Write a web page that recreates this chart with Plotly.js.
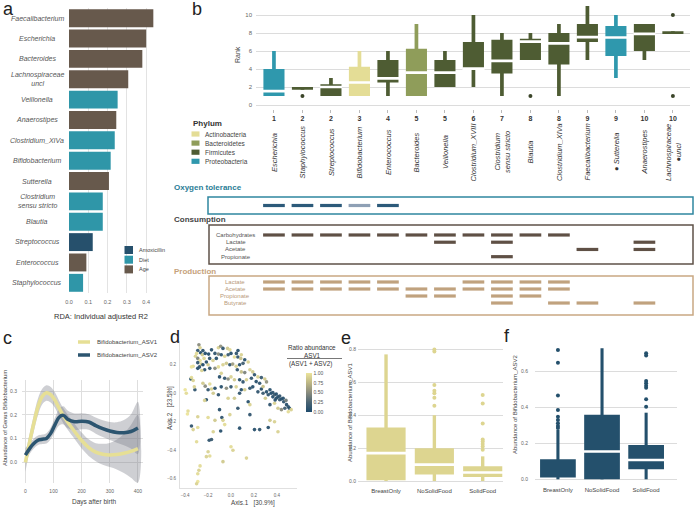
<!DOCTYPE html>
<html><head><meta charset="utf-8">
<script src="https://cdn.plot.ly/plotly-3.0.1.min.js"></script>
<style>html,body{margin:0;padding:0;background:#fff}#chart{width:696px;height:508px}</style>
</head><body><div id="chart"></div>
<script>
// ---------------- Panel a: RDA ----------------
const rdaGenera = ["Faecalibacterium","Escherichia","Bacteroides","Lachnospiraceae<br>uncl","Veillonella","Anaerostipes","Clostridium_XIVa","Bifidobacterium","Sutterella","Clostridium<br>sensu stricto","Blautia","Streptococcus","Enterococcus","Staphylococcus"];
const rdaR2 = [0.437,0.400,0.380,0.307,0.252,0.245,0.237,0.216,0.207,0.175,0.175,0.123,0.090,0.073];
const rdaFactor = ["Age","Age","Age","Age","Diet","Age","Diet","Diet","Age","Diet","Diet","Amoxicillin","Age","Diet"];
const factorNames = ["Amoxicillin","Diet","Age"];
const factorColors = ["#26506c","#2f96a8","#67594c"];

// ---------------- Panel b: rank boxes ----------------
const rankGenera = ["Escherichia","Staphylococcus","Streptococcus","Bifidobacterium","Enterococcus","Bacteroides","Veillonella","Clostridium_XVIII","Clostridium<br>sensu stricto","Blautia","Clostridium_XIVa","Faecalibacterium","● Sutterella","Anaerostipes","Lachnospiraceae<br>●uncl"];
const rankLabels = ["1","2","2","3","4","5","5","6","7","8","8","9","9","10","10"];
const rankPhylum = ["Proteobacteria","Firmicutes","Firmicutes","Actinobacteria","Firmicutes","Bacteroidetes","Firmicutes","Firmicutes","Firmicutes","Firmicutes","Firmicutes","Firmicutes","Proteobacteria","Firmicutes","Firmicutes"];
const rankLo  = [1, 1.7, 1, 1, 1, 1, 2, 2, 1, 5, 1, 5, 3, 5, 7.9];
const rankQ1  = [1, 1.7, 1, 1, 2.5, 1, 2, 3.95, 3.5, 5, 4.5, 7, 5.45, 6, 7.9];
const rankMed = [1.55, null, 2.0, 2.5, 2.95, 3.6, 3.6, 4.05, 4.9, 7.05, 6.85, 7.55, 7.5, 7.9, null];
const rankQ3  = [4, 2, 2.3, 4.25, 5, 6.25, 5, 7, 7.25, 7.35, 8, 9, 8.78, 9, 8.2];
const rankHi  = [6, 2, 3, 6, 6, 9, 6, 10, 8, 8, 9, 11, 10, 9, 8.2];
const rankOutX = [1, 9, 14, 14];
const rankOutY = [1, 1, 10, 1];
const phylumNames = ["Actinobacteria","Bacteroidetes","Firmicutes","Proteobacteria"];
const phylumColors = ["#e4dd96","#8f9d5a","#4e5c33","#2f98ad"];

// traits (2 = strong, 1 = weak, 0 = none)
const oxygenTolerance = [2,2,2,1,2,0,0,0,0,0,0,0,0,0,0];
const consumptionRows = ["Carbohydrates","Lactate","Acetate","Propionate"];
const consCarbohydrates = [1,1,1,1,1,1,1,1,1,1,1,0,0,0,0];
const consLactate       = [0,0,0,0,0,0,1,0,1,0,0,0,0,1,0];
const consAcetate       = [0,0,0,0,0,0,0,0,0,0,0,1,0,1,0];
const consPropionate    = [0,0,0,0,0,0,0,0,1,0,0,0,0,0,0];
const productionRows = ["Lactate","Acetate","Propionate","Butyrate"];
const prodLactate    = [1,1,1,1,1,0,0,1,1,1,1,0,0,0,0];
const prodAcetate    = [1,1,1,1,1,1,1,1,1,1,1,0,0,0,0];
const prodPropionate = [0,0,0,0,0,1,1,0,1,1,0,0,0,0,0];
const prodButyrate   = [0,0,0,0,0,0,0,0,1,0,1,1,0,1,0];

// ---------------- Panel c: smoothed abundance ----------------
const days    = [0,15,30,45,60,75,90,105,120,135,150,175,200,225,250,275,300,325,350,375,400];
const asv1    = [0.0,0.085,0.165,0.235,0.278,0.293,0.285,0.262,0.228,0.196,0.17,0.13,0.092,0.062,0.043,0.034,0.031,0.033,0.038,0.046,0.058];
const asv1Lo  = [-0.04,0.05,0.13,0.2,0.245,0.26,0.252,0.23,0.196,0.165,0.138,0.098,0.058,0.027,0.005,-0.01,-0.02,-0.03,-0.045,-0.065,-0.085];
const asv1Hi  = [0.035,0.12,0.2,0.27,0.31,0.325,0.318,0.295,0.26,0.228,0.202,0.162,0.126,0.097,0.081,0.078,0.082,0.096,0.121,0.157,0.2];
const asv2    = [0.03,0.058,0.079,0.093,0.097,0.101,0.122,0.158,0.19,0.198,0.182,0.171,0.173,0.17,0.155,0.142,0.132,0.126,0.125,0.13,0.145];
const asv2Lo  = [0.0,0.035,0.058,0.073,0.077,0.079,0.097,0.128,0.155,0.16,0.145,0.136,0.139,0.137,0.121,0.107,0.094,0.083,0.072,0.058,0.035];
const asv2Hi  = [0.06,0.08,0.1,0.113,0.117,0.123,0.147,0.188,0.225,0.236,0.219,0.206,0.207,0.203,0.189,0.177,0.17,0.169,0.178,0.202,0.255];
const asvNames = ["Bifidobacterium_ASV1","Bifidobacterium_ASV2"];
const asvColors = ["#e6df95","#2c5570"];

// ---------------- Panel d: PCoA ----------------
const pcoaX = [-0.28,-0.27,-0.29,-0.30,-0.265,-0.25,-0.31,-0.29,-0.245,-0.225,-0.235,-0.27,-0.29,-0.26,-0.11,-0.09,-0.07,-0.03,-0.01,-0.17,-0.14,-0.195,-0.11,-0.085,-0.055,-0.025,0.0,0.03,0.06,0.085,0.12,0.15,0.105,-0.33,-0.345,-0.29,-0.275,-0.245,-0.23,-0.255,-0.2,-0.185,-0.14,-0.11,-0.07,-0.04,-0.01,0.015,0.045,0.075,0.055,0.09,0.12,0.165,0.19,0.205,0.235,0.265,0.295,0.31,-0.085,-0.1,-0.055,-0.025,0.0,0.03,0.075,0.105,0.135,-0.35,-0.33,-0.345,-0.40,-0.39,-0.315,-0.32,-0.245,-0.225,-0.185,-0.17,-0.2,-0.14,-0.155,-0.085,-0.04,0.0,0.045,0.09,0.12,0.165,0.19,0.235,0.265,0.28,0.31,0.325,0.35,0.365,0.38,0.395,0.41,0.425,0.44,0.46,0.485,0.5,0.51,0.47,0.41,0.44,0.38,0.34,0.30,-0.215,-0.23,-0.11,-0.025,0.03,0.15,0.165,0.075,-0.375,-0.38,-0.29,-0.2,-0.345,-0.33,-0.29,-0.14,-0.1,-0.08,-0.07,-0.055,-0.09,-0.01,0.075,0.165,0.205,0.25,0.325,0.34,0.38,0.41,0.5,0.525,0.06,-0.155,-0.30,-0.19,-0.17,-0.2,-0.185,-0.215,-0.07,0.135,0.0,0.017,-0.27,-0.28,-0.29,-0.29,-0.30,0.34,0.365,0.395,0.425,0.455,0.48,0.385,0.25,0.28,0.22,0.178,0.061,0.047,0.09,-0.215,-0.186,-0.157,-0.128];
const pcoaY = [0.34,0.32,0.30,0.28,0.285,0.27,0.26,0.245,0.30,0.28,0.245,0.23,0.215,0.205,0.32,0.33,0.315,0.315,0.305,0.305,0.28,0.275,0.275,0.27,0.26,0.27,0.28,0.255,0.255,0.245,0.235,0.22,0.21,0.19,0.185,0.175,0.185,0.2,0.165,0.16,0.2,0.175,0.175,0.185,0.2,0.21,0.2,0.205,0.19,0.2,0.165,0.15,0.145,0.165,0.15,0.13,0.115,0.11,0.1,0.08,0.14,0.115,0.105,0.1,0.115,0.095,0.095,0.08,0.095,0.1,0.09,0.11,0.025,0.0,0.025,0.045,0.07,0.05,0.065,0.03,0.025,0.035,0.0,0.045,0.035,0.045,0.045,0.025,0.025,0.035,0.045,0.01,0.03,0.0,0.01,-0.01,0.0,-0.025,-0.01,-0.035,-0.025,-0.045,-0.04,-0.06,-0.08,-0.095,-0.105,-0.105,-0.105,-0.115,-0.07,-0.08,-0.035,-0.045,-0.05,-0.01,-0.035,-0.035,-0.06,-0.08,0.0,-0.125,-0.145,-0.165,-0.17,-0.23,-0.255,-0.24,-0.19,-0.115,-0.17,-0.19,-0.22,-0.265,-0.15,-0.245,-0.15,-0.255,-0.255,-0.24,-0.19,-0.2,-0.27,-0.13,-0.115,-0.105,-0.27,-0.34,-0.33,-0.325,-0.41,-0.44,-0.445,-0.48,-0.455,-0.375,-0.4,-0.51,-0.54,-0.565,-0.62,-0.635,0.025,0.005,-0.005,-0.02,-0.035,-0.05,-0.047,0.07,0.047,0.082,0.105,0.30,0.28,0.27,0.22,0.245,0.23,0.245];
const pcoaRatio = [0.5,0.9,0.1,0.95,0.05,0.85,0.9,0.45,0.08,0.03,0.92,0.97,0.12,0.88,0.9,0.55,0.1,0.85,0.93,0.05,0.1,0.02,0.5,0.07,0.9,0.15,0.05,0.95,0.1,0.8,0.05,0.9,0.2,0.95,1.0,0.05,0.1,0.0,0.08,0.9,0.85,0.1,0.5,0.95,0.9,0.85,0.1,0.6,0.9,0.05,0.1,0.8,0.45,0.9,0.85,0.1,0.9,0.15,0.85,0.55,0.9,0.05,0.1,0.5,0.9,0.85,0.05,0.1,0.9,0.05,0.9,0.95,1.0,0.95,0.1,0.9,0.85,0.5,0.95,0.9,0.1,0.05,0.85,0.05,0.5,0.1,0.9,0.05,0.85,0.1,0.05,0.1,0.05,0.15,0.05,0.1,0.0,0.05,0.2,0.1,0.05,0.15,0.05,0.1,0.05,0.1,0.05,0.2,0.85,0.5,0.9,0.1,0.85,0.05,0.9,0.1,0.9,0.85,0.05,0.9,0.1,0.95,1.0,0.9,0.95,0.1,0.9,0.95,0.85,0.05,0.1,0.9,0.95,0.05,0.9,0.05,0.1,0.05,0.1,0.05,0.85,0.9,0.9,0.95,0.9,0.1,0.9,0.95,0.1,0.15,0.9,0.95,0.9,0.85,0.9,0.95,0.9,0.95,0.9,0.95,1.0,0.9,0.05,0.1,0.05,0.1,0.05,0.4,0.05,0.1,0.8,0.05,0.1,0.05,0.1,0.9,0.05,0.1,0.9,0.05];

// ---------------- Panels e, f: diet boxes ----------------
const dietGroups = ["BreastOnly","NoSolidFood","SolidFood"];
const e_lo  = [0, 0, 0];
const e_q1  = [0.005, 0.04, 0.025];
const e_med = [0.17, 0.10, 0.052];
const e_q3  = [0.325, 0.20, 0.09];
const e_hi  = [0.77, 0.40, 0.15];
const e_outX = [1,1,1,1,1,1,1, 2,2,2,2,2,2,2,2];
const e_outY = [0.80,0.787,0.584,0.549,0.533,0.507,0.458, 0.523,0.472,0.35,0.252,0.24,0.225,0.21,0.19];
const f_lo  = [0, 0, 0];
const f_q1  = [0.01, 0.0, 0.056];
const f_med = [null, 0.155, 0.107];
const f_q3  = [0.112, 0.358, 0.19];
const f_hi  = [0.275, 0.728, 0.37];
const f_outX = [0,0,0,0,0,0,0,0,0, 2,2,2,2,2,2,2,2];
const f_outY = [0.718,0.648,0.465,0.385,0.348,0.33,0.311,0.296,0.285, 0.70,0.687,0.546,0.533,0.52,0.509,0.444,0.403];

// ================= build =================
const W = 696, H = 508;
const FONT = 'Liberation Sans, Arial, sans-serif';
const px = v => v / W, py = v => 1 - v / H;
const domX = (a, b) => [px(a), px(b)];
const domY = (top, bottom) => [py(bottom), py(top)];
const traces = [], annotations = [], shapes = [];
const txt = (text, x, y, o = {}) => annotations.push(Object.assign({
  text, x: px(x), y: py(y), xref: 'paper', yref: 'paper', showarrow: false,
  xanchor: 'center', yanchor: 'middle', font: {family: FONT, size: 7, color: '#444'}
}, o));

// ---- a ----
factorNames.forEach((f, k) => {
  const xs = [], ys = [];
  rdaGenera.forEach((g, i) => { if (rdaFactor[i] === f) { xs.push(rdaR2[i]); ys.push(g); } });
  traces.push({type: 'bar', orientation: 'h', x: xs, y: ys, width: 0.88, marker: {color: factorColors[k]}, xaxis: 'x', yaxis: 'y', hoverinfo: 'skip'});
});
rdaGenera.forEach(g => annotations.push({text: g, x: px(37), xref: 'paper', y: g, yref: 'y', showarrow: false,
  xanchor: 'center', yanchor: 'middle', align: 'center', font: {family: FONT, size: 7, color: '#555', style: 'italic'}}));
factorNames.forEach((f, k) => {
  const yc = 250 + 9.7 * k;
  shapes.push({type: 'rect', xref: 'paper', yref: 'paper', x0: px(124.5), x1: px(133), y0: py(yc + 4), y1: py(yc - 4), fillcolor: factorColors[k], line: {width: 0}});
  txt(f, 136.5, yc, {xanchor: 'left', font: {family: FONT, size: 5.5, color: '#444'}});
});
txt('RDA: Individual adjusted R2', 101, 316, {font: {family: FONT, size: 7.5, color: '#333'}});

// ---- b ----
const idx = rankGenera.map((_, i) => i);
const gColor = rankPhylum.map(p => phylumColors[phylumNames.indexOf(p)]);
traces.push({type: 'bar', x: idx, base: rankLo, y: idx.map(i => rankHi[i] - rankLo[i]), width: 0.13, marker: {color: gColor}, xaxis: 'x2', yaxis: 'y2', hoverinfo: 'skip'});
traces.push({type: 'bar', x: idx, base: rankQ1, y: idx.map(i => rankQ3[i] - rankQ1[i]), width: 0.74, marker: {color: gColor}, xaxis: 'x2', yaxis: 'y2', hoverinfo: 'skip'});
traces.push({type: 'bar', x: idx, base: rankMed.map(m => m === null ? 0 : m - 0.15), y: rankMed.map(m => m === null ? null : 0.3), width: 0.78, marker: {color: '#ffffff'}, xaxis: 'x2', yaxis: 'y2', hoverinfo: 'skip'});
traces.push({type: 'scatter', mode: 'markers', x: rankOutX, y: rankOutY, marker: {color: '#3b4529', size: 4}, xaxis: 'x2', yaxis: 'y2', hoverinfo: 'skip'});
rankGenera.forEach((g, i) => annotations.push({text: g, x: i, xref: 'x2', y: py(152), yref: 'paper', textangle: -90, showarrow: false,
  xanchor: 'center', yanchor: 'middle', align: 'center', font: {family: FONT, size: 7.5, color: '#333', style: 'italic'}}));
txt('Rank', 237, 55, {textangle: -90, font: {family: FONT, size: 7, color: '#444'}});
txt('<b>Phylum</b>', 191, 123, {xanchor: 'left', font: {family: FONT, size: 8, color: '#333'}});
phylumNames.forEach((p, k) => {
  const yc = 134 + 9.1 * k;
  shapes.push({type: 'rect', xref: 'paper', yref: 'paper', x0: px(191.5), x1: px(199.5), y0: py(yc + 2.6), y1: py(yc - 2.6), fillcolor: phylumColors[k], line: {width: 0}});
  txt(p, 203, yc, {xanchor: 'left', font: {family: FONT, size: 6.5, color: '#444'}});
});
// oxygen / consumption / production dashes (line-ew length = 1.4 * size)
const oxX = [], oxC = [];
oxygenTolerance.forEach((v, i) => { if (v > 0) { oxX.push(i); oxC.push(v === 2 ? '#2c5a7a' : '#8ea0b5'); } });
const dash = (x, y, color, ax) => ({type: 'scatter', mode: 'markers', x, y, xaxis: 'x' + ax, yaxis: 'y' + ax, hoverinfo: 'skip',
  marker: {symbol: 'line-ew', size: 15.5, line: {width: 3.2, color}}});
traces.push(dash(oxX, oxX.map(() => 0.5), oxC, 3));
[consCarbohydrates, consLactate, consAcetate, consPropionate].forEach((row, r) => {
  const xs = []; row.forEach((v, i) => { if (v) xs.push(i); });
  traces.push(dash(xs, xs.map(() => r), '#5f5045', 4));
});
[prodLactate, prodAcetate, prodPropionate, prodButyrate].forEach((row, r) => {
  const xs = []; row.forEach((v, i) => { if (v) xs.push(i); });
  traces.push(dash(xs, xs.map(() => r), '#c0a27e', 5));
});
consumptionRows.forEach((n, r) => annotations.push({text: n, x: px(236), xref: 'paper', y: r, yref: 'y4', showarrow: false, xanchor: 'center', font: {family: FONT, size: 6, color: '#555'}}));
productionRows.forEach((n, r) => annotations.push({text: n, x: px(235), xref: 'paper', y: r, yref: 'y5', showarrow: false, xanchor: 'center', font: {family: FONT, size: 6, color: '#b8997a'}}));
const box = (x0, x1, t, b, c) => shapes.push({type: 'rect', xref: 'paper', yref: 'paper', x0: px(x0), x1: px(x1), y0: py(b), y1: py(t), line: {color: c, width: 1.5}});
box(208, 693, 197, 214, '#2f86a0');
box(209, 693, 225, 264, '#5f5248');
box(209, 693, 276, 315, '#c9a882');
txt('<b>Oxygen tolerance</b>', 172, 187, {xanchor: 'left', font: {family: FONT, size: 8, color: '#2a7d96'}});
txt('<b>Consumption</b>', 172, 219, {xanchor: 'left', font: {family: FONT, size: 8, color: '#444'}});
txt('<b>Production</b>', 172, 271, {xanchor: 'left', font: {family: FONT, size: 8, color: '#c6a27c'}});

// ---- c ----
[[asv1Lo, asv1Hi], [asv2Lo, asv2Hi]].forEach(([lo, hi]) => {
  traces.push({type: 'scatter', mode: 'lines', x: days.concat(days.slice().reverse()), y: hi.concat(lo.slice().reverse()),
    fill: 'toself', fillcolor: 'rgba(125,130,140,0.38)', line: {width: 0, shape: 'spline'}, xaxis: 'x6', yaxis: 'y6', hoverinfo: 'skip'});
});
[asv1, asv2].forEach((s, k) => traces.push({type: 'scatter', mode: 'lines', x: days, y: s, line: {color: asvColors[k], width: 3.5, shape: 'spline'}, xaxis: 'x6', yaxis: 'y6', hoverinfo: 'skip'}));
asvNames.forEach((n, k) => {
  const yc = 342 + 13 * k;
  shapes.push({type: 'line', xref: 'paper', yref: 'paper', x0: px(78), x1: px(90), y0: py(yc), y1: py(yc), line: {color: asvColors[k], width: 3.5}});
  txt(n, 95, yc, {xanchor: 'left', font: {family: FONT, size: 6, color: '#444'}});
});
txt('Days after birth', 94, 502, {font: {family: FONT, size: 6.5, color: '#444'}});
txt('Abundance of Genus Bifidobacterium', 5, 418, {textangle: -90, font: {family: FONT, size: 5.8, color: '#444'}});

// ---- d ----
traces.push({type: 'scatter', mode: 'markers', x: pcoaX, y: pcoaY, xaxis: 'x7', yaxis: 'y7', hoverinfo: 'skip',
  marker: {size: 3.6, color: pcoaRatio, cmin: 0, cmax: 1, opacity: 0.95,
    colorscale: [[0, '#1f4b6c'], [0.25, '#4b6473'], [0.5, '#8a8c7e'], [0.75, '#bdb785'], [1, '#ece49b']],
    colorbar: {x: px(306), xanchor: 'left', y: py(392.5), yanchor: 'middle', thickness: 6, len: 38.5, lenmode: 'pixels',
      xpad: 0, ypad: 0, tickvals: [0, 0.25, 0.5, 0.75, 1], tickformat: '.2f', tickfont: {family: FONT, size: 5, color: '#555'},
      outlinewidth: 0, ticks: '', ticklabelpad: 2}}});
txt('Ratio abundance', 312, 347, {font: {family: FONT, size: 6.3, color: '#333'}});
txt('ASV1', 312, 355, {font: {family: FONT, size: 6.3, color: '#333'}});
shapes.push({type: 'line', xref: 'paper', yref: 'paper', x0: px(287), x1: px(342), y0: py(358.5), y1: py(358.5), line: {color: '#555', width: 0.8}});
txt('(ASV1 + ASV2)', 310, 364, {font: {family: FONT, size: 6.3, color: '#333'}});
txt('Axis.1\u00a0\u00a0\u00a0[30.9%]', 253, 503, {font: {family: FONT, size: 6.3, color: '#444'}});
txt('Axis.2\u00a0\u00a0\u00a0[23.5%]', 170, 408, {textangle: -90, font: {family: FONT, size: 6.3, color: '#444'}});

// ---- e, f ----
function dietBoxes(lo, q1, med, q3, hi, ox, oy, color, ax, medH) {
  const g = dietGroups.map((_, i) => i);
  traces.push({type: 'bar', x: g, base: lo, y: g.map(i => hi[i] - lo[i]), width: 0.07, marker: {color}, xaxis: 'x' + ax, yaxis: 'y' + ax, hoverinfo: 'skip'});
  traces.push({type: 'bar', x: g, base: q1, y: g.map(i => q3[i] - q1[i]), width: 0.81, marker: {color}, xaxis: 'x' + ax, yaxis: 'y' + ax, hoverinfo: 'skip'});
  traces.push({type: 'bar', x: g, base: med.map(m => m === null ? 0 : m - medH / 2), y: med.map(m => m === null ? null : medH), width: 0.85, marker: {color: '#ffffff'}, xaxis: 'x' + ax, yaxis: 'y' + ax, hoverinfo: 'skip'});
  traces.push({type: 'scatter', mode: 'markers', x: ox, y: oy, marker: {color, size: 4}, xaxis: 'x' + ax, yaxis: 'y' + ax, hoverinfo: 'skip'});
}
dietBoxes(e_lo, e_q1, e_med, e_q3, e_hi, e_outX, e_outY, '#ddd590', 8, 0.016);
dietBoxes(f_lo, f_q1, f_med, f_q3, f_hi, f_outX, f_outY, '#24506c', 9, 0.014);
txt('Abundance of Bifidobacterium_ASV1', 350, 413, {textangle: -90, font: {family: FONT, size: 6, color: '#444'}});
txt('Abundance of Bifidobacterium_ASV2', 515, 405, {textangle: -90, font: {family: FONT, size: 6, color: '#444'}});

// panel letters
[['a', 8, 9], ['b', 197, 9], ['c', 7, 338], ['d', 175, 337], ['e', 346, 338], ['f', 507, 336]].forEach(([l, x, y]) =>
  txt(l, x, y, {font: {family: FONT, size: 18, color: '#222'}}));

const tf = s => ({family: FONT, size: s, color: '#666'});
const layout = {
  width: W, height: H, margin: {l: 0, r: 0, t: 0, b: 0}, paper_bgcolor: '#fff', plot_bgcolor: 'rgba(0,0,0,0)',
  showlegend: false, barmode: 'overlay', hovermode: false, font: {family: FONT},
  xaxis: {domain: domX(69, 157), range: [0, 0.456], anchor: 'y', tickvals: [0, 0.1, 0.2, 0.3, 0.4], tickformat: '.1f',
    showgrid: true, gridcolor: '#e3e3e3', zeroline: false, ticks: '', tickfont: tf(5.5), ticklabelstandoff: 4},
  yaxis: {domain: domY(8, 293), anchor: 'x', type: 'category', categoryorder: 'array', categoryarray: rdaGenera,
    range: [13.5, -0.5], showticklabels: false, showgrid: false, zeroline: false},
  xaxis2: {domain: domX(256, 690), range: [-0.63, 14.6], anchor: 'y2', tickvals: idx, ticktext: rankLabels.map(r => '<b>' + r + '</b>'),
    tickfont: {family: FONT, size: 7, color: '#333'}, ticks: 'outside', ticklen: 3, tickcolor: '#bbb', showgrid: false, zeroline: false},
  yaxis2: {domain: domY(6, 108.6), range: [-0.4, 11], anchor: 'x2', tickvals: [0, 2, 4, 6, 8, 10], gridcolor: '#dcdcdc',
    zeroline: false, tickfont: tf(6), ticks: '', ticklabelstandoff: 3},
  xaxis3: {domain: domX(256, 690), range: [-0.63, 14.6], anchor: 'y3', visible: false},
  yaxis3: {domain: domY(197, 214), range: [0, 1], anchor: 'x3', visible: false},
  xaxis4: {domain: domX(256, 690), range: [-0.63, 14.6], anchor: 'y4', visible: false},
  yaxis4: {domain: domY(225, 264), range: [4.01, -1.38], anchor: 'x4', visible: false},
  xaxis5: {domain: domX(256, 690), range: [-0.63, 14.6], anchor: 'y5', visible: false},
  yaxis5: {domain: domY(276, 315), range: [4.71, -0.857], anchor: 'x5', visible: false},
  xaxis6: {domain: domX(22, 143), range: [-12, 418], anchor: 'y6', tickvals: [0, 100, 200, 300, 400], gridcolor: '#dedede',
    zeroline: false, tickfont: tf(5), ticks: '', ticklabelstandoff: 4},
  yaxis6: {domain: domY(380, 483), range: [-0.087, 0.347], anchor: 'x6', tickvals: [0, 0.1, 0.2, 0.3], tickformat: '.1f',
    gridcolor: '#dedede', zeroline: false, tickfont: tf(5), ticks: '', ticklabelstandoff: 4},
  xaxis7: {domain: domX(180, 297), range: [-0.445, 0.576], anchor: 'y7', tickvals: [-0.4, -0.2, 0, 0.2, 0.4], tickformat: '.1f',
    showgrid: false, zeroline: false, showline: true, linecolor: '#e0e0e0', tickfont: tf(4.5), ticks: '', ticklabelstandoff: 3},
  yaxis7: {domain: domY(341, 488), range: [-0.665, 0.367], anchor: 'x7', tickvals: [-0.6, -0.4, -0.2, 0, 0.2], tickformat: '.1f',
    showgrid: false, zeroline: false, showline: true, linecolor: '#e0e0e0', tickfont: tf(4.5), ticks: '', ticklabelstandoff: 2},
  xaxis8: {domain: domX(358, 503), range: [-0.58, 2.42], anchor: 'y8', tickvals: [0, 1, 2], ticktext: dietGroups,
    showgrid: false, zeroline: false, tickfont: {family: FONT, size: 6, color: '#444'}, ticks: '', ticklabelstandoff: 3},
  yaxis8: {domain: domY(345, 483), range: [-0.012, 0.827], anchor: 'x8', tickvals: [0, 0.2, 0.4, 0.6, 0.8], tickformat: '.1f',
    gridcolor: '#dcdcdc', zeroline: false, tickfont: tf(5), ticks: '', ticklabelstandoff: 1},
  xaxis9: {domain: domX(535, 677), range: [-0.52, 2.7], anchor: 'y9', tickvals: [0, 1, 2], ticktext: dietGroups,
    showgrid: false, zeroline: false, tickfont: {family: FONT, size: 6, color: '#444'}, ticks: '', ticklabelstandoff: 3},
  yaxis9: {domain: domY(345, 482), range: [-0.015, 0.746], anchor: 'x9', tickvals: [0, 0.2, 0.4, 0.6], tickformat: '.1f',
    gridcolor: '#dcdcdc', zeroline: false, tickfont: tf(5), ticks: '', ticklabelstandoff: 6},
  annotations, shapes
};
Plotly.newPlot('chart', traces, layout, {staticPlot: true, displayModeBar: false});
</script></body></html>
